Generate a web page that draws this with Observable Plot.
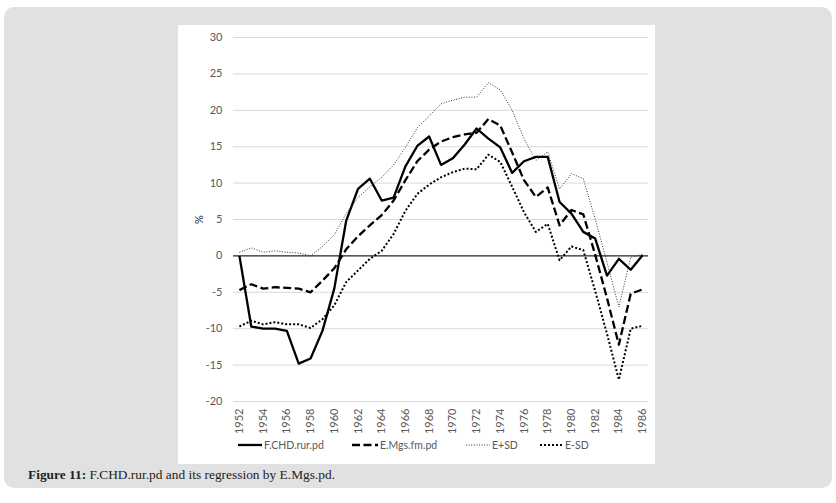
<!DOCTYPE html>
<html>
<head>
<meta charset="utf-8">
<script src="https://cdn.jsdelivr.net/npm/d3@7"></script>
<script src="https://cdn.jsdelivr.net/npm/@observablehq/plot@0.6"></script>
<style>
  html, body { margin: 0; padding: 0; background: #ffffff; }
  body { width: 836px; height: 503px; position: relative; overflow: hidden; }
  #bg { position: absolute; left: 4px; top: 7px; width: 828px; height: 481px; background: #e1e1e1; border-radius: 10px; }
  #panel { position: absolute; left: 178px; top: 25px; width: 477px; height: 439px; background: #ffffff; }
  #legend { position: absolute; left: 0; top: 414px; width: 477px; height: 14px; font-family: Lato, "Open Sans", sans-serif; font-size: 10.5px; color: #595959; white-space: nowrap; }
  #legend .item { position: absolute; top: 0; display: flex; align-items: center; }
  #legend svg { margin-right: 2px; }
  #caption { position: absolute; left: 28px; top: 467px; font-family: "Liberation Serif", "DejaVu Serif", serif; font-size: 13.4px; color: #222; white-space: nowrap; }
</style>
</head>
<body>
<div id="bg"></div>
<div id="panel"><div id="chart"></div><div id="legend"></div></div>
<div id="caption"><b>Figure 11:</b> F.CHD.rur.pd and its regression by E.Mgs.pd.</div>
<script>
const years = [1952,1953,1954,1955,1956,1957,1958,1959,1960,1961,1962,1963,1964,1965,1966,1967,1968,1969,1970,1971,1972,1973,1974,1975,1976,1977,1978,1979,1980,1981,1982,1983,1984,1985,1986];
const fchd   = [0,-9.7,-10.0,-10.0,-10.3,-14.8,-14.1,-10.3,-4.5,4.8,9.2,10.6,7.6,8.0,12.3,15.1,16.4,12.5,13.4,15.3,17.5,16.1,14.9,11.4,13.0,13.6,13.6,7.4,5.8,3.3,2.4,-2.7,-0.4,-1.9,0.1];
const emgs   = [-4.7,-3.9,-4.5,-4.3,-4.4,-4.5,-5.0,-3.4,-1.7,0.9,2.7,4.2,5.6,7.6,10.4,13.0,14.6,15.7,16.3,16.7,16.9,18.8,17.9,14.2,10.4,8.1,9.4,4.2,6.3,5.7,0.2,-5.8,-12.2,-5.2,-4.6];
const eplus  = [0.5,1.1,0.5,0.7,0.5,0.4,0.0,1.3,2.9,5.8,8.0,9.5,10.8,12.5,14.9,17.6,19.2,20.9,21.4,21.8,21.8,23.8,22.8,20.0,16.1,13.1,14.3,9.2,11.3,10.6,5.1,-0.9,-7.0,-0.2,0.2];
const eminus = [-9.7,-8.9,-9.4,-9.1,-9.4,-9.4,-9.9,-8.7,-6.8,-3.6,-2.0,-0.4,0.7,3.0,6.2,8.5,9.8,10.8,11.5,12.0,11.9,13.9,12.9,9.5,6.0,3.3,4.4,-0.6,1.3,0.8,-4.8,-10.7,-17.0,-10.0,-9.6];
const seriesNames = ["F.CHD.rur.pd", "E.Mgs.fm.pd", "E+SD", "E-SD"];
const yTicks = [-20,-15,-10,-5,0,5,10,15,20,25,30];
const xTicks = years.filter(y => y % 2 === 0);

const styles = {
  "F.CHD.rur.pd": {stroke: "#000", strokeWidth: 2.3, strokeDasharray: null, legendX: 60, legendW: 24},
  "E.Mgs.fm.pd": {stroke: "#000", strokeWidth: 2.3, strokeDasharray: "8,3.5", legendX: 174, legendW: 26},
  "E+SD": {stroke: "#333", strokeWidth: 1, strokeDasharray: "1,1.6", legendX: 288, legendW: 24},
  "E-SD": {stroke: "#000", strokeWidth: 2, strokeDasharray: "2,2", legendX: 362, legendW: 23}
};
const seriesValues = [fchd, emgs, eplus, eminus];
const tables = seriesNames.map((name, i) => years.map((year, j) => ({year, v: seriesValues[i][j], name})));

const chart = Plot.plot({
  width: 477,
  height: 410,
  marginLeft: 55,
  marginRight: 7,
  marginTop: 12,
  marginBottom: 34,
  style: {fontFamily: "Lato, 'Open Sans', sans-serif", fontSize: "11px", color: "#595959", background: "transparent", overflow: "visible"},
  x: {type: "point", domain: years, padding: 0.5, round: false},
  y: {domain: [-20, 30]},
  marks: [
    Plot.gridY(yTicks, {stroke: "#d9d9d9", strokeOpacity: 1, strokeWidth: 1}),
    Plot.axisY({ticks: yTicks, tickSize: 0, tickPadding: 11, tickFormat: d => String(d), label: null}),
    Plot.axisY({ticks: [], label: "%", labelAnchor: "center", labelArrow: "none", labelOffset: 38, color: "#222"}),
    Plot.axisX({ticks: xTicks, tickRotate: -90, tickSize: 0, tickPadding: 7, label: null, tickFormat: d => String(d)}),
    Plot.ruleY([0], {stroke: "#000", strokeWidth: 1}),
    ...tables.map((t, i) => {
      const s = styles[seriesNames[i]];
      return Plot.lineY(t, {x: "year", y: "v", stroke: s.stroke, strokeWidth: s.strokeWidth, strokeDasharray: s.strokeDasharray, strokeLinecap: "butt", strokeLinejoin: "round"});
    })
  ]
});
document.getElementById("chart").appendChild(chart);

const legend = document.getElementById("legend");
seriesNames.forEach(name => {
  const s = styles[name];
  const item = document.createElement("div");
  item.className = "item";
  item.style.left = s.legendX + "px";
  const w = s.legendW;
  const svg = d3.create("svg").attr("width", w).attr("height", 8);
  svg.append("line").attr("x1", 0).attr("x2", w).attr("y1", 4).attr("y2", 4)
    .attr("stroke", s.stroke).attr("stroke-width", s.strokeWidth)
    .attr("stroke-dasharray", s.strokeDasharray).attr("stroke-linecap", "butt");
  item.appendChild(svg.node());
  const span = document.createElement("span");
  span.textContent = name;
  item.appendChild(span);
  legend.appendChild(item);
});
</script>
</body>
</html>
